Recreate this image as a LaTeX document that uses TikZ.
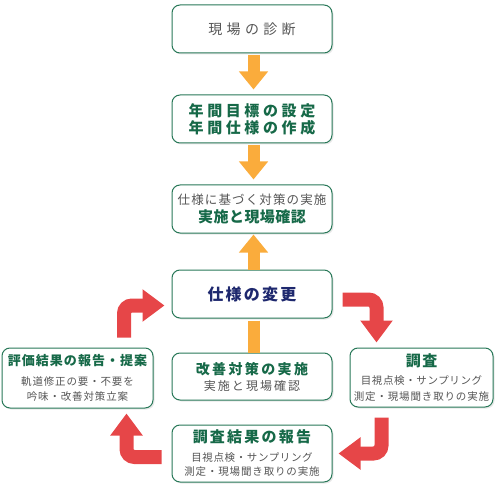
\documentclass[tikz,border=0pt]{standalone}
\usepackage{fontspec}
\setmainfont{Noto Sans CJK JP}
\usetikzlibrary{arrows.meta,shadows}
\definecolor{boxgreen}{RGB}{40,120,88}
\definecolor{txtgreen}{RGB}{22,105,72}
\definecolor{txtgray}{RGB}{85,85,85}
\definecolor{txtnavy}{RGB}{30,40,110}
\definecolor{arrred}{RGB}{230,70,72}
\definecolor{arrorange}{RGB}{250,172,60}
\newcommand\gline[3]{{\color{txtgreen}\fontsize{#1}{0}\selectfont\bfseries\addfontfeature{LetterSpace=#2}#3}}
\newcommand\sline[3]{{\color{txtgray}\fontsize{#1}{0}\selectfont\addfontfeature{LetterSpace=#2}#3}}

\begin{document}
\begin{tikzpicture}[x=1pt,y=-1pt,
  box/.style={draw=boxgreen,line width=1pt,rounded corners=8pt,fill=white,
    minimum width=160pt,minimum height=48pt,inner sep=0pt,align=center,
    drop shadow={opacity=0.18,shadow xshift=1.5pt,shadow yshift=-1.5pt},
    font={\fontsize{10}{0}\selectfont\lineskiplimit=-100pt\lineskip=0pt}},
  redarrow/.style={draw=arrred,line width=14pt,rounded corners=8pt,-{Triangle[width=31pt,length=22pt]}},
  orangearrow/.style={draw=arrorange,line width=12pt,-{Triangle[width=28pt,length=18pt]}}]
\useasboundingbox (0,0) rectangle (503,497);
\node[box] (diag) at (252,29) {\sline{14}{31}{現場の診断}};
\node[box] (goal) at (252,119) {\gline{15}{24}{年間目標の設定}\\[17pt]\gline{15}{24}{年間仕様の作成}};
\node[box] (impl) at (252,209) {\sline{12.5}{9}{仕様に基づく対策の実施}\\[18pt]\gline{15}{3}{実施と現場確認}};
\node[box] (change) at (252,294) {{\color{txtnavy}\fontsize{16}{0}\selectfont\bfseries\addfontfeature{LetterSpace=14}仕様の変更}};
\node[box,minimum height=47pt] (kaizen) at (252,376.5) {\gline{14}{17}{改善対策の実施}\\[16pt]\sline{12}{17}{実施と現場確認}};
\node[box,minimum height=57pt] (report) at (252,453.5) {\gline{15}{15}{調査結果の報告}\\[19pt]\sline{10.5}{6}{目視点検・サンプリング}\\[14pt]\sline{10.5}{8}{測定・現場聞き取りの実施}};
\node[box,minimum width=151pt,minimum height=60pt] (eval) at (77.5,378) {\gline{13}{8}{評価結果の報告・提案}\\[20pt]\sline{10.5}{8}{軌道修正の要・不要を}\\[15pt]\sline{10.5}{8}{吟味・改善対策立案}};
\node[box,minimum width=143pt,minimum height=59pt] (survey) at (421.5,377.5) {\gline{15}{10}{調査}\\[18pt]\sline{10.5}{6}{目視点検・サンプリング}\\[16pt]\sline{10.5}{8}{測定・現場聞き取りの実施}};
\draw[orangearrow,shorten <=2pt,shorten >=5pt] ([xshift=1.5pt]diag.south) -- ([xshift=1.5pt]goal.north);
\draw[orangearrow,shorten <=2pt,shorten >=5pt] ([xshift=1.5pt]goal.south) -- ([xshift=1.5pt]impl.north);
\draw[orangearrow,shorten >=1pt] ([xshift=1.5pt]change.north) -- ([xshift=1.5pt]impl.south);
\draw[draw=arrorange,line width=12pt,shorten <=2pt] ([xshift=1.5pt]change.south) -- ([xshift=1.5pt]kaizen.north);
\draw[redarrow] ([xshift=46.5pt,yshift=10pt]eval.north) |- ([xshift=-7pt,yshift=-11.5pt]change.west);
\draw[redarrow] ([xshift=10pt,yshift=-5.5pt]change.east) -| ([xshift=-45pt,yshift=5pt]survey.north);
\draw[redarrow] ([xshift=-40pt,yshift=-10pt]survey.south) |- ([xshift=6pt]report.east);
\draw[redarrow] ([xshift=-10pt,yshift=-3.5pt]report.west) -| ([xshift=49pt,yshift=-5pt]eval.south);
\end{tikzpicture}
\end{document}
